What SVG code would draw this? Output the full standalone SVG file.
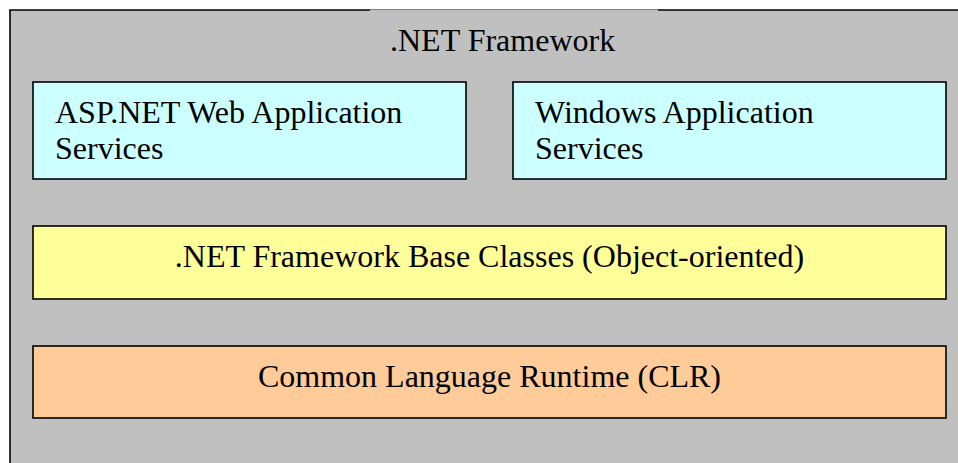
<svg xmlns="http://www.w3.org/2000/svg" width="958" height="463" viewBox="0 0 958 463">
<style>
.t{font-family:"Liberation Serif","Times New Roman",serif;font-size:32px;fill:#000}
.box{stroke:#000;stroke-width:1.6}
.c{text-anchor:middle}
</style>
<rect width="958" height="463" fill="#fff"/>
<g id="framework">
<rect x="10" y="10" width="960" height="470" fill="#c0c0c0"/>
<line x1="10" y1="10" x2="10" y2="463" stroke="#000" stroke-width="1.6"/>
<line x1="9.2" y1="10" x2="370" y2="10" stroke="#000" stroke-width="1.6"/>
<line x1="370" y1="9.6" x2="658" y2="9.6" stroke="#777" stroke-width="1"/>
<line x1="658" y1="10" x2="958" y2="10" stroke="#000" stroke-width="1.6"/>
<text class="t" x="390" y="51">.NET Framework</text>
</g>
<g id="asp">
<rect class="box" x="33" y="82" width="433" height="97" fill="#ccffff"/>
<text class="t" x="55" y="123">ASP.NET Web Application</text>
<text class="t" x="55" y="159">Services</text>
</g>
<g id="windows">
<rect class="box" x="513" y="82" width="433" height="97" fill="#ccffff"/>
<text class="t" x="535" y="123">Windows Application</text>
<text class="t" x="535" y="159">Services</text>
</g>
<g id="baseclasses">
<rect class="box" x="33" y="226" width="913" height="73" fill="#ffff99"/>
<text class="t c" x="489.5" y="267">.NET Framework Base Classes (Object-oriented)</text>
</g>
<g id="clr">
<rect class="box" x="33" y="346" width="913" height="72" fill="#ffcc99"/>
<text class="t c" x="489.5" y="387">Common Language Runtime (CLR)</text>
</g>
<g id="connectors"></g>
</svg>
